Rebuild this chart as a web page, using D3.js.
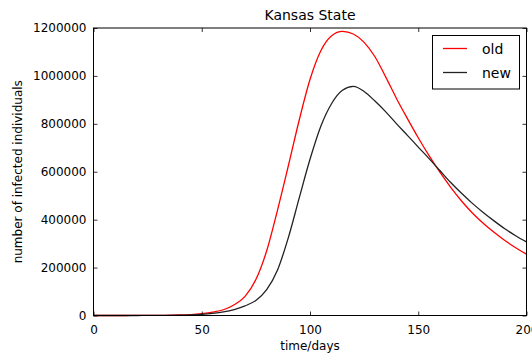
<!DOCTYPE html>
<html>
<head>
<meta charset="utf-8">
<script src="https://cdn.jsdelivr.net/npm/d3@7"></script>
<style>
  body { margin: 0; background: #fff; }
  svg { display: block; font-family: "DejaVu Sans", sans-serif; }
</style>
</head>
<body>
<svg id="chart" width="532" height="354"></svg>
<script>
const days = [0,5,10,15,20,25,30,35,40,45,50,55,60,65,70,75,80,85,90,95,100,105,110,115,120,125,130,135,140,145,150,155,160,165,170,175,180,185,190,195,200];
const oldValues = [10,20,40,80,150,300,550,1000,2000,4000,8000,14000,24000,45000,80000,150000,270000,440000,625000,815000,985000,1105000,1168000,1186000,1175000,1140000,1080000,995000,905000,822000,742000,667000,598000,535000,478000,428000,385000,347000,313000,283000,256000];
const newValues = [5,10,20,40,80,150,280,500,1000,2500,5000,9000,15000,25000,40000,63000,108000,190000,325000,490000,652000,790000,885000,940000,956000,935000,895000,850000,800000,752000,703000,655000,605000,555000,510000,468000,430000,395000,362000,333000,307000];
const xTicks = [0,50,100,150,200];
const yTicks = [0,200000,400000,600000,800000,1000000,1200000];
const seriesNames = ["old","new"];
const seriesColors = ["#ff0000","#222222"];

const svg = d3.select("#chart");
const m = {left: 93.5, top: 28, right: 526.5, bottom: 315.5};
const x = d3.scaleLinear().domain([0,200]).range([m.left, m.right]);
const y = d3.scaleLinear().domain([0,1200000]).range([m.bottom, m.top]);

const plotW = m.right - m.left, plotH = m.bottom - m.top;

// curves
const line = d3.line().x((d,i)=>x(days[i])).y(d=>y(d)).curve(d3.curveMonotoneX);
const g = svg.append("g");
g.append("path").datum(oldValues).attr("d", line).attr("fill","none")
  .attr("stroke", seriesColors[0]).attr("stroke-width",1.3);
g.append("path").datum(newValues).attr("d", line).attr("fill","none")
  .attr("stroke", seriesColors[1]).attr("stroke-width",1.3);

// axes (inward ticks)
const fmt = d3.format("d");
const axBottom = svg.append("g").attr("transform",`translate(0,${m.bottom})`)
  .call(d3.axisBottom(x).tickValues(xTicks).tickFormat(fmt).tickSizeInner(-4).tickSizeOuter(0).tickPadding(10));
const axTop = svg.append("g").attr("transform",`translate(0,${m.top})`)
  .call(d3.axisTop(x).tickValues(xTicks).tickFormat("").tickSizeInner(-4).tickSizeOuter(0));
const axLeft = svg.append("g").attr("transform",`translate(${m.left},0)`)
  .call(d3.axisLeft(y).tickValues(yTicks).tickFormat(fmt).tickSizeInner(-4).tickSizeOuter(0).tickPadding(7));
const axRight = svg.append("g").attr("transform",`translate(${m.right},0)`)
  .call(d3.axisRight(y).tickValues(yTicks).tickFormat("").tickSizeInner(-4).tickSizeOuter(0));
[axBottom, axTop, axLeft, axRight].forEach(a => {
  a.select(".domain").remove();
  a.selectAll(".tick line").attr("stroke","#000").attr("stroke-width",0.8);
  a.selectAll("text").attr("font-family","DejaVu Sans, sans-serif").attr("font-size",12).attr("fill","#000");
});

// frame
svg.append("rect").attr("x",m.left).attr("y",m.top).attr("width",plotW).attr("height",plotH)
  .attr("fill","none").attr("stroke","#000").attr("stroke-width",1);

// title and labels
svg.append("text").attr("x",(m.left+m.right)/2).attr("y",20).attr("text-anchor","middle")
  .attr("font-size",14).text("Kansas State");
svg.append("text").attr("x",(m.left+m.right)/2).attr("y",350).attr("text-anchor","middle")
  .attr("font-size",12).text("time/days");
svg.append("text").attr("transform",`translate(22,${(m.top+m.bottom)/2}) rotate(-90)`)
  .attr("text-anchor","middle").attr("font-size",12).text("number of infected individuals");

// legend
const lg = svg.append("g");
lg.append("rect").attr("x",432.5).attr("y",35.5).attr("width",87).attr("height",53.5)
  .attr("fill","#fff").attr("stroke","#000").attr("stroke-width",1);
seriesNames.forEach((n,i)=>{
  const yy = 48.5 + i*24;
  lg.append("line").attr("x1",443).attr("x2",467).attr("y1",yy).attr("y2",yy)
    .attr("stroke",seriesColors[i]).attr("stroke-width",1.3);
  lg.append("text").attr("x",482).attr("y",yy+5).attr("font-size",14).text(n);
});
</script>
</body>
</html>
